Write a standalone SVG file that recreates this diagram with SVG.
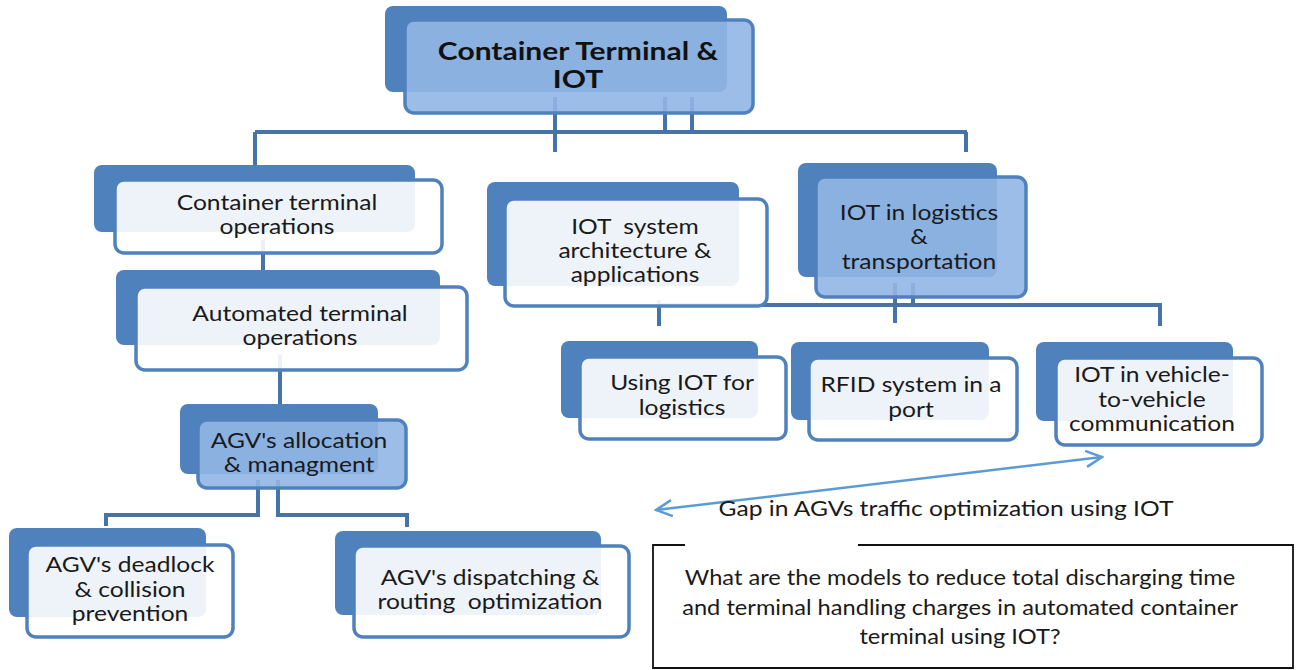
<svg xmlns="http://www.w3.org/2000/svg" width="1301" height="670" viewBox="0 0 1301 670">
<style>
.back{fill:#4f81bd}
.front{fill:#ffffff;fill-opacity:0.9;stroke:#4f81bd;stroke-width:3.5}
.frontb{fill:#91b6e4;fill-opacity:0.9;stroke:#4f81bd;stroke-width:3.5}
.conn{stroke:#4673a8;stroke-width:4;fill:none}
.t{font-family:Lato,"Liberation Sans",sans-serif;font-size:20.5px;fill:#1a1a1a;text-anchor:middle;white-space:pre}
.tb{font-family:Lato,"Liberation Sans",sans-serif;font-size:25px;font-weight:bold;fill:#111;text-anchor:middle}
.q{font-size:21.5px}
</style>
<defs>
<marker id="ah" viewBox="0 0 20 20" refX="18" refY="10" markerWidth="20" markerHeight="20" markerUnits="userSpaceOnUse" orient="auto-start-reverse">
<path d="M2,2 L18,10 L2,18" fill="none" stroke="#5b9bd5" stroke-width="2.5"/>
</marker>
</defs>
<rect width="1301" height="670" fill="#ffffff"/>
<g id="connectors">
<path class="conn" d="M255,132 H967"/>
<path class="conn" d="M555,97 V152"/>
<path class="conn" d="M665,97 V132"/>
<path class="conn" d="M692,97 V132"/>
<path class="conn" d="M255,132 V172"/>
<path class="conn" d="M966,132 V152"/>
<path class="conn" d="M263,240 V272"/>
<path class="conn" d="M280,355 V406"/>
<path class="conn" d="M258,480 V515 H106 V526"/>
<path class="conn" d="M278,480 V515 H407 V527"/>
<path class="conn" d="M659,300 V326"/>
<path class="conn" d="M659,305 H1160 V326"/>
<path class="conn" d="M895,283 V323"/>
<path class="conn" d="M913,283 V305"/>
<line x1="656" y1="510" x2="1102" y2="457" stroke="#5b9bd5" stroke-width="2.5" marker-start="url(#ah)" marker-end="url(#ah)"/>
</g>
<g id="n_root">
<rect class="back" x="385" y="6" width="342" height="86" rx="8"/>
<rect class="frontb" x="405" y="20" width="348" height="93" rx="9"/>
<text class="tb" transform="matrix(1.2 0 0 1 578 0)" y="60">Container Terminal &amp;</text>
<text class="tb" transform="matrix(1.2 0 0 1 578 0)" y="88">IOT</text>
</g>
<g id="n_cto">
<rect class="back" x="94" y="165" width="321" height="67" rx="8"/>
<rect class="front" x="115" y="180" width="327" height="73" rx="9"/>
<text class="t" transform="matrix(1.2 0 0 1 277 0)" y="210">Container terminal</text>
<text class="t" transform="matrix(1.2 0 0 1 277 0)" y="234">operations</text>
</g>
<g id="n_ato">
<rect class="back" x="116" y="270" width="324" height="75" rx="8"/>
<rect class="front" x="136" y="287" width="331" height="83" rx="9"/>
<text class="t" transform="matrix(1.2 0 0 1 300 0)" y="321">Automated terminal</text>
<text class="t" transform="matrix(1.2 0 0 1 300 0)" y="345">operations</text>
</g>
<g id="n_alloc">
<rect class="back" x="180" y="404" width="198" height="70" rx="8"/>
<rect class="frontb" x="198" y="420" width="208" height="68" rx="9"/>
<text class="t" transform="matrix(1.2 0 0 1 299 0)" y="448">AGV's allocation</text>
<text class="t" transform="matrix(1.2 0 0 1 299 0)" y="472">&amp; managment</text>
</g>
<g id="n_deadlock">
<rect class="back" x="9" y="528" width="197" height="89" rx="8"/>
<rect class="front" x="27" y="545" width="206" height="92" rx="9"/>
<text class="t" transform="matrix(1.2 0 0 1 130 0)" y="572">AGV's deadlock</text>
<text class="t" transform="matrix(1.2 0 0 1 130 0)" y="597">&amp; collision</text>
<text class="t" transform="matrix(1.2 0 0 1 130 0)" y="621">prevention</text>
</g>
<g id="n_dispatch">
<rect class="back" x="335" y="531" width="266" height="84" rx="8"/>
<rect class="front" x="354" y="546" width="275" height="91" rx="9"/>
<text class="t" transform="matrix(1.2 0 0 1 490 0)" y="585">AGV's dispatching &amp;</text>
<text class="t" transform="matrix(1.2 0 0 1 490 0)" y="609" xml:space="preserve">routing  optimization</text>
</g>
<g id="n_iotsys">
<rect class="back" x="487" y="182" width="252" height="104" rx="8"/>
<rect class="front" x="505" y="199" width="262" height="107" rx="9"/>
<text class="t" transform="matrix(1.2 0 0 1 635 0)" y="234" xml:space="preserve">IOT  system</text>
<text class="t" transform="matrix(1.2 0 0 1 635 0)" y="258">architecture &amp;</text>
<text class="t" transform="matrix(1.2 0 0 1 635 0)" y="282">applications</text>
</g>
<g id="n_iotlog">
<rect class="back" x="798" y="163" width="199" height="114" rx="8"/>
<rect class="frontb" x="816" y="177" width="210" height="120" rx="9"/>
<text class="t" transform="matrix(1.2 0 0 1 919 0)" y="220">IOT in logistics</text>
<text class="t" transform="matrix(1.2 0 0 1 919 0)" y="244">&amp;</text>
<text class="t" transform="matrix(1.2 0 0 1 919 0)" y="269">transportation</text>
</g>
<g id="n_using">
<rect class="back" x="561" y="341" width="197" height="77" rx="8"/>
<rect class="front" x="580" y="357" width="206" height="82" rx="9"/>
<text class="t" transform="matrix(1.2 0 0 1 682 0)" y="390">Using IOT for</text>
<text class="t" transform="matrix(1.2 0 0 1 682 0)" y="415">logistics</text>
</g>
<g id="n_rfid">
<rect class="back" x="791" y="342" width="198" height="78" rx="8"/>
<rect class="front" x="809" y="358" width="208" height="82" rx="9"/>
<text class="t" transform="matrix(1.2 0 0 1 911 0)" y="392">RFID system in a</text>
<text class="t" transform="matrix(1.2 0 0 1 911 0)" y="417">port</text>
</g>
<g id="n_v2v">
<rect class="back" x="1036" y="342" width="197" height="79" rx="8"/>
<rect class="front" x="1056" y="358" width="206" height="87" rx="9"/>
<text class="t" transform="matrix(1.2 0 0 1 1152 0)" y="382">IOT in vehicle-</text>
<text class="t" transform="matrix(1.2 0 0 1 1152 0)" y="407">to-vehicle</text>
<text class="t" transform="matrix(1.2 0 0 1 1152 0)" y="431">communication</text>
</g>
<g id="gap_label">
<text class="t" transform="matrix(1.2 0 0 1 946 0)" y="516">Gap in AGVs traffic optimization using IOT</text>
</g>
<g id="n_question">
<path d="M685,545 H653 V668 H1293 V545 H858" fill="none" stroke="#111" stroke-width="1.8"/>
<text class="t q" transform="matrix(1.1 0 0 1 960 0)" y="585">What are the models to reduce total discharging time</text>
<text class="t q" transform="matrix(1.1 0 0 1 960 0)" y="615">and terminal handling charges in automated container</text>
<text class="t q" transform="matrix(1.1 0 0 1 960 0)" y="644">terminal using IOT?</text>
</g>
</svg>
